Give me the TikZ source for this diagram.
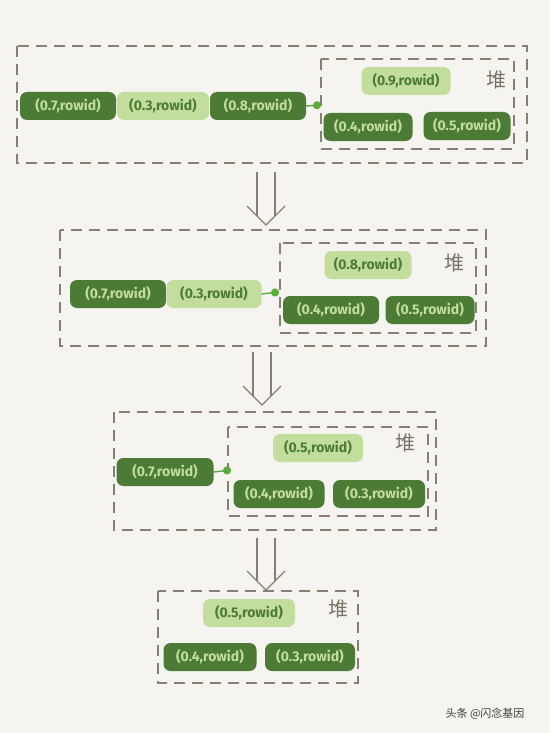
\documentclass[tikz,border=0pt]{standalone}
\usepackage{fontspec}
\newfontfamily\pillfont{Fira Sans}
\newfontfamily\cjk{Noto Sans CJK SC}
\usetikzlibrary{arrows.meta}
\definecolor{bg}{HTML}{F5F4F0}
\definecolor{dkgreen}{HTML}{4B7B35}
\definecolor{ltgreen}{HTML}{C3DE9C}
\definecolor{dashc}{HTML}{877F72}
\definecolor{heapc}{HTML}{7A7266}
\definecolor{linkc}{HTML}{5BAA3C}
\tikzset{
  pill/.style={rounded corners=7pt, minimum height=28pt, inner sep=0pt, font=\pillfont\bfseries\fontsize{14}{15}\selectfont},
  dk/.style={pill, fill=dkgreen, text=ltgreen},
  lt/.style={pill, fill=ltgreen, text=dkgreen},
  box/.style={draw=dashc, line width=1.4pt, dash pattern=on 11pt off 7pt},
  heap/.style={text=heapc, font=\cjk\fontsize{20}{20}\selectfont},
  link/.style={draw=linkc, line width=1.4pt, -{Circle[length=8pt]}},
  darrow/.style={draw=dashc, line width=1.3pt},
}
\begin{document}
\begin{tikzpicture}[x=1pt,y=-1pt]
\fill[bg] (0,0) rectangle (550,733);
\useasboundingbox (0,0) rectangle (550,733);

% ---------- section 1 ----------
\draw[box] (17,46) rectangle (527,163);
\draw[box] (321,59) rectangle (514,149);
\node[dk, minimum width=96pt] (a1) at (68,106) {(0.7,rowid)};
\node[lt, minimum width=92pt] (a2) at (163,106) {(0.3,rowid)};
\node[dk, minimum width=96pt] (a3) at (258,106) {(0.8,rowid)};
\coordinate (c1) at (321,105);
\draw[link] (a3.east) -- (c1);
\node[lt, minimum width=89pt] (a4) at (406,81) {(0.9,rowid)};
\node[heap] (h1) at (496,80) {堆};
\node[dk, minimum width=89pt] (a5) at (368,127) {(0.4,rowid)};
\node[dk, minimum width=87pt] (a6) at (467,126) {(0.5,rowid)};

% arrow 1
\draw[darrow] (257,172) -- (257,216);
\draw[darrow] (275,172) -- (275,216);
\draw[darrow] (247,206) -- (266,225) -- (285,206);

% ---------- section 2 ----------
\draw[box] (60,230) rectangle (486,346);
\draw[box] (280,243) rectangle (476,333);
\node[dk, minimum width=96pt] (b1) at (118,294) {(0.7,rowid)};
\node[lt, minimum width=95pt] (b2) at (214,294) {(0.3,rowid)};
\coordinate (c2) at (279,292);
\draw[link] (b2.east) -- (c2);
\node[lt, minimum width=87pt] (b3) at (368,265) {(0.8,rowid)};
\node[heap] (h2) at (454,263) {堆};
\node[dk, minimum width=96pt] (b4) at (331,310) {(0.4,rowid)};
\node[dk, minimum width=89pt] (b5) at (430,310) {(0.5,rowid)};

% arrow 2
\draw[darrow] (253,352) -- (253,396);
\draw[darrow] (271,352) -- (271,396);
\draw[darrow] (243,386) -- (262,405) -- (281,386);

% ---------- section 3 ----------
\draw[box] (114,412) rectangle (436,530);
\draw[box] (228,427) rectangle (428,516);
\node[dk, minimum width=97pt] (d1) at (165,472) {(0.7,rowid)};
\coordinate (c3) at (231,470);
\draw[link] (d1.east) -- (c3);
\node[lt, minimum width=90pt] (d2) at (318,448) {(0.5,rowid)};
\node[heap] (h3) at (405,443) {堆};
\node[dk, minimum width=91pt] (d3) at (279,494) {(0.4,rowid)};
\node[dk, minimum width=92pt] (d4) at (379,494) {(0.3,rowid)};

% arrow 3
\draw[darrow] (257,538) -- (257,581);
\draw[darrow] (275,538) -- (275,581);
\draw[darrow] (247,571) -- (266,590) -- (285,571);

% ---------- section 4 ----------
\draw[box] (158,591) rectangle (358,683);
\node[lt, minimum width=92pt] (e1) at (249,613) {(0.5,rowid)};
\node[heap] (h4) at (338,609) {堆};
\node[dk, minimum width=93pt] (e2) at (210,657) {(0.4,rowid)};
\node[dk, minimum width=90pt] (e3) at (310,657) {(0.3,rowid)};

% watermark
\node[font=\cjk\fontsize{11}{11}\selectfont, text=black!75] (wm) at (485,714) {头条 @闪念基因};
\end{tikzpicture}
\end{document}
